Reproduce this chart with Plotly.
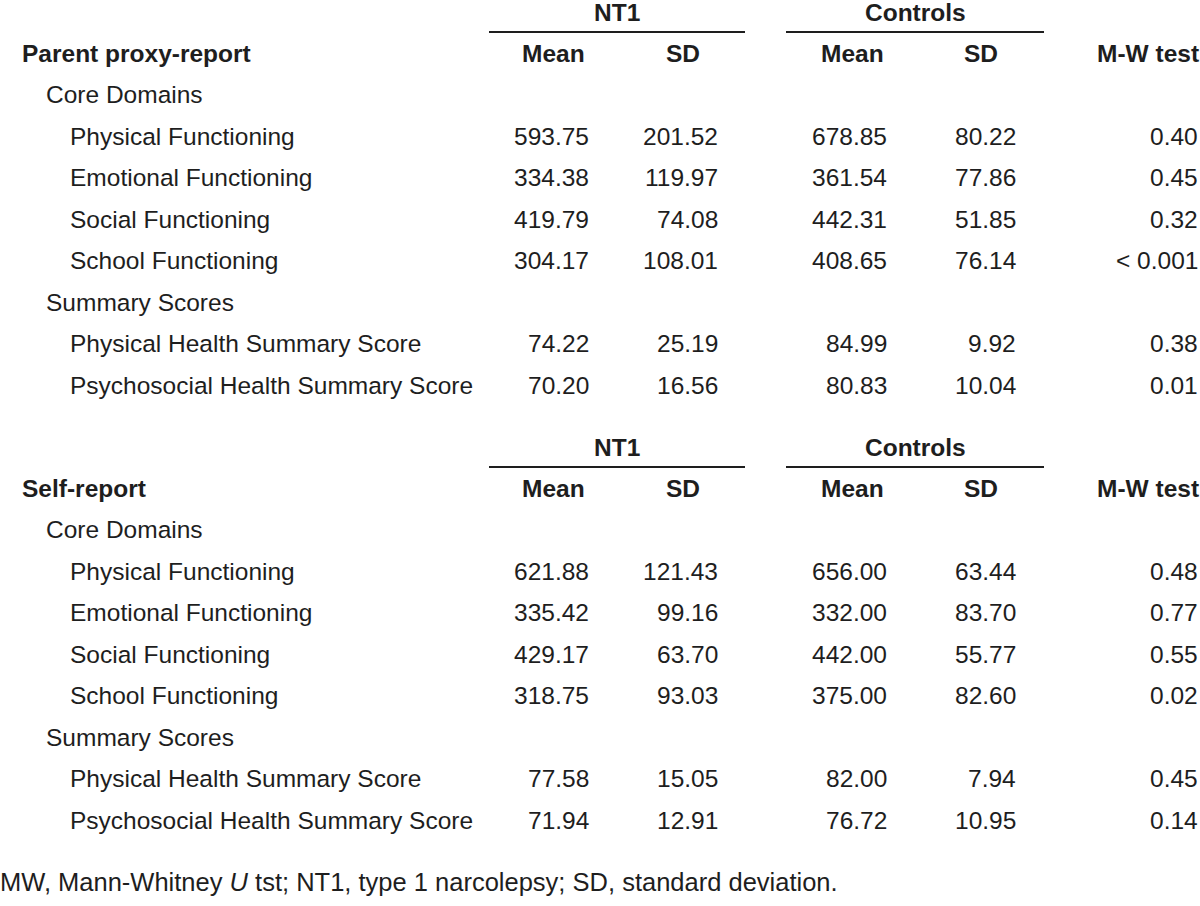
import plotly.graph_objects as go

# ---- data ----
item_labels = ["Physical Functioning", "Emotional Functioning", "Social Functioning",
               "School Functioning", "Physical Health Summary Score",
               "Psychosocial Health Summary Score"]
group_labels = ["Core Domains", "Summary Scores"]
section_titles = ["Parent proxy-report", "Self-report"]
col_groups = ["NT1", "Controls"]
col_heads = ["Mean", "SD", "Mean", "SD", "M-W test"]

parent_nt1_mean = [593.75, 334.38, 419.79, 304.17, 74.22, 70.20]
parent_nt1_sd = [201.52, 119.97, 74.08, 108.01, 25.19, 16.56]
parent_ctrl_mean = [678.85, 361.54, 442.31, 408.65, 84.99, 80.83]
parent_ctrl_sd = [80.22, 77.86, 51.85, 76.14, 9.92, 10.04]
parent_p = ["0.40", "0.45", "0.32", "< 0.001", "0.38", "0.01"]

self_nt1_mean = [621.88, 335.42, 429.17, 318.75, 77.58, 71.94]
self_nt1_sd = [121.43, 99.16, 63.70, 93.03, 15.05, 12.91]
self_ctrl_mean = [656.00, 332.00, 442.00, 375.00, 82.00, 76.72]
self_ctrl_sd = [63.44, 83.70, 55.77, 82.60, 7.94, 10.95]
self_p = ["0.48", "0.77", "0.55", "0.02", "0.45", "0.14"]

footnote = "MW, Mann-Whitney <i>U</i> tst; NT1, type 1 narcolepsy; SD, standard deviation."

# ---- layout constants ----
W, H = 1200, 906
FONT = "Liberation Sans, Arial, sans-serif"
FS = 24.5
COLOR = "#1e1e1e"
ROW = 41.45
num_right = [591, 720, 889, 1018, 1200]
head_center = [553, 683, 852, 981]
group_line = [(489, 745), (786, 1044)]
group_center = [617, 915]

fig = go.Figure()
fig.add_trace(go.Scatter(x=[0, W], y=[0, H], mode="markers",
                         marker=dict(opacity=0), hoverinfo="skip", showlegend=False))

ann = []
shapes = []


def txt(x, y, s, anchor="left", bold=False, size=FS, xshift=0):
    ann.append(dict(x=x, y=y, xref="x", yref="y", text=("<b>%s</b>" % s) if bold else s,
                    showarrow=False, xanchor=anchor, yanchor="middle", xshift=xshift,
                    font=dict(family=FONT, size=size, color=COLOR)))


sections = [
    (12, [parent_nt1_mean, parent_nt1_sd, parent_ctrl_mean, parent_ctrl_sd], parent_p),
    (447, [self_nt1_mean, self_nt1_sd, self_ctrl_mean, self_ctrl_sd], self_p),
]

for si, (y0, numcols, pcol) in enumerate(sections):
    # group headers
    for gi, g in enumerate(col_groups):
        txt(group_center[gi], y0, g, "center", True)
        x0, x1 = group_line[gi]
        shapes.append(dict(type="line", xref="x", yref="y", x0=x0, x1=x1,
                           y0=y0 + 20, y1=y0 + 20, line=dict(color=COLOR, width=1.8)))
    yh = y0 + ROW
    txt(20, yh, section_titles[si], "left", True)
    for ci in range(4):
        txt(head_center[ci], yh, col_heads[ci], "center", True)
    txt(1200, yh, col_heads[4], "right", True, xshift=1)
    y = yh
    for k in range(6):
        if k == 0 or k == 4:
            y += ROW
            txt(44, y, group_labels[0 if k == 0 else 1])
        y += ROW
        txt(68, y, item_labels[k])
        for ci in range(4):
            txt(num_right[ci], y, "%.2f" % numcols[ci][k], "right")
        txt(num_right[4], y, pcol[k], "right")

txt(0, 882, footnote, "left", size=25.5, xshift=-2)

fig.update_layout(
    width=W, height=H, margin=dict(l=0, r=0, t=0, b=0),
    paper_bgcolor="white", plot_bgcolor="white",
    xaxis=dict(range=[0, W], visible=False, fixedrange=True),
    yaxis=dict(range=[H, 0], visible=False, fixedrange=True),
    annotations=ann, shapes=shapes, showlegend=False,
)
fig.write_html("out.html", config={"displayModeBar": False},
               post_script="document.body.style.margin='0px';document.body.style.overflow='hidden';")
